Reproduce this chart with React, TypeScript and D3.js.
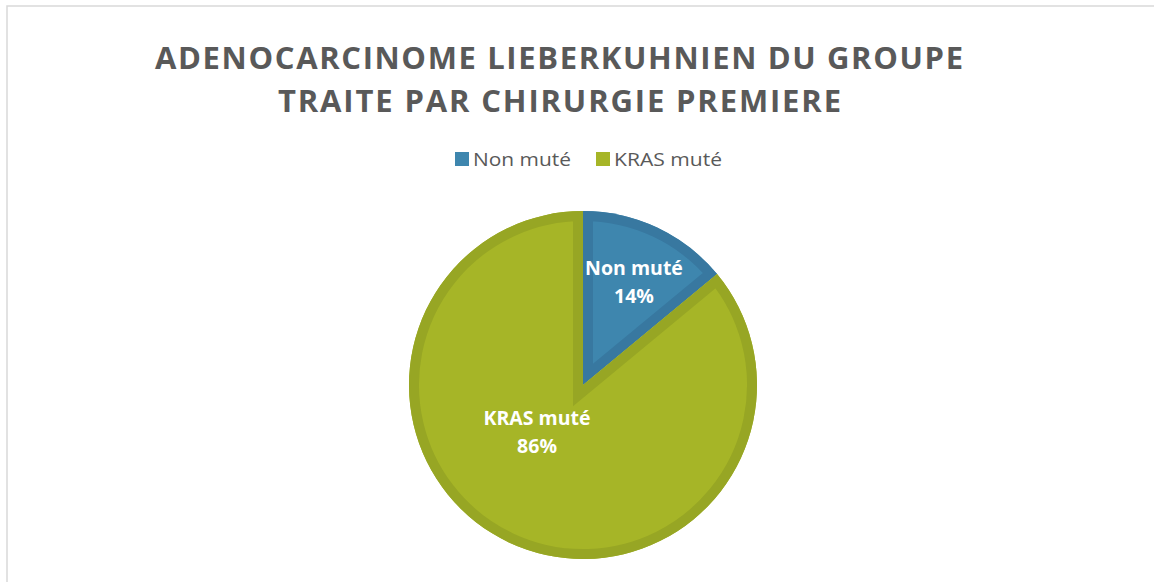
import React from "react";
import * as d3 from "d3";

const categories = ["Non muté", "KRAS muté"];
const values = [14, 86];
const colors = ["#3e86ae", "#a6b527"];
const darkColors = ["#3878a0", "#97a624"];
const titleLines = ["ADENOCARCINOME LIEBERKUHNIEN DU GROUPE", "TRAITE PAR CHIRURGIE PREMIERE"];

export default function App() {
  const W = 1154, H = 582;
  const cx = 583, cy = 385, r = 174, band = 10;
  const pie = d3.pie<number>().sort(null).value((d) => d);
  const arcs = pie(values);
  const arcGen = d3.arc<d3.PieArcDatum<number>>().innerRadius(0).outerRadius(r);
  const font = "'Open Sans', 'Noto Sans', sans-serif";
  const total = d3.sum(values);
  const labelPos = [[51, -110], [-46, 40]];
  return (
    <svg width={W} height={H} style={{ position: "absolute", left: 0, top: 0, background: "#fff" }}>
      <rect x={7} y={6} width={W} height={H} fill="#fff" stroke="#d9d9d9" strokeWidth={1.5} />
      <g fontFamily={font} fontWeight="bold" fill="#595959" fontSize={31} textAnchor="middle">
        <text x={559} y={69} textLength={808} lengthAdjust="spacing">{titleLines[0]}</text>
        <text x={559.5} y={112} textLength={563} lengthAdjust="spacing">{titleLines[1]}</text>
      </g>
      <g fontFamily={font} fontSize={19} fill="#595959">
        <rect x={455} y={152} width={14} height={14} fill={colors[0]} />
        <text x={473} y={166} textLength={98} lengthAdjust="spacingAndGlyphs">{categories[0]}</text>
        <rect x={596} y={152} width={14} height={14} fill={colors[1]} />
        <text x={614} y={166} textLength={108} lengthAdjust="spacingAndGlyphs">{categories[1]}</text>
      </g>
      <defs>
        {arcs.map((a, i) => (
          <clipPath id={`clip${i}`} key={i}>
            <path d={arcGen(a) || ""} />
          </clipPath>
        ))}
      </defs>
      <g transform={`translate(${cx},${cy})`}>
        {arcs.map((a, i) => (
          <g key={i}>
            <path d={arcGen(a) || ""} fill={colors[i]} />
            <path
              d={arcGen(a) || ""}
              fill="none"
              stroke={darkColors[i]}
              strokeWidth={band * 2}
              strokeLinejoin="miter"
              clipPath={`url(#clip${i})`}
            />
          </g>
        ))}
        {arcs.map((a, i) => {
          const pos = labelPos[i];
          return (
            <text
              key={`l${i}`}
              x={pos[0]}
              y={pos[1]}
              textAnchor="middle"
              fontFamily={font}
              fontWeight="bold"
              fontSize={19.5}
              fill="#fff"
            >
              <tspan x={pos[0]} dy={0}>{categories[i]}</tspan>
              <tspan x={pos[0]} dy={28}>{Math.round((values[i] / total) * 100)}%</tspan>
            </text>
          );
        })}
      </g>
    </svg>
  );
}
